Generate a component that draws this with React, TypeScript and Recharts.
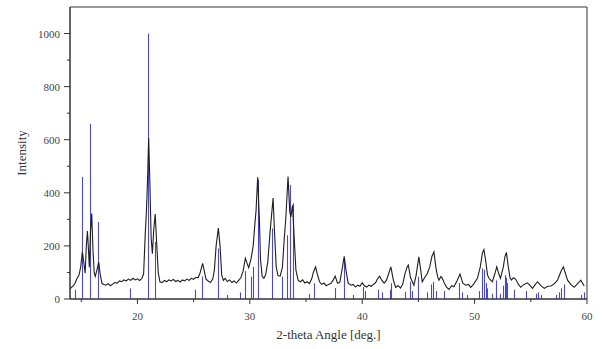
import React from "react";
import { ComposedChart, Bar, Line, XAxis, YAxis, ReferenceArea } from "recharts";

// measured pattern (2-theta, counts)
const PATTERN_ANGLE = [
  14.0, 14.15, 14.3, 14.45, 14.6, 14.8, 14.95, 15.1, 15.25, 15.35, 15.45, 15.55, 15.65, 15.72, 15.82, 15.93,
  16.05, 16.15, 16.25, 16.4, 16.55, 16.7, 16.85, 17.0, 17.2, 17.4, 17.6, 17.8, 18.0, 18.2, 18.4, 18.6,
  18.8, 19.0, 19.2, 19.4, 19.6, 19.8, 20.0, 20.2, 20.4, 20.55, 20.7, 20.8, 20.9, 21.0, 21.1, 21.22,
  21.33, 21.45, 21.58, 21.7, 21.85, 22.0, 22.2, 22.4, 22.6, 22.8, 23.0, 23.2, 23.4, 23.6, 23.8, 24.0,
  24.2, 24.4, 24.6, 24.8, 25.0, 25.2, 25.4, 25.55, 25.8, 25.95, 26.1, 26.3, 26.5, 26.7, 26.85, 27.0,
  27.2, 27.35, 27.5, 27.65, 27.8, 28.0, 28.2, 28.4, 28.6, 28.8, 29.0, 29.2, 29.4, 29.6, 29.75, 29.9,
  30.1, 30.3, 30.45, 30.55, 30.7, 30.85, 30.95, 31.1, 31.25, 31.4, 31.6, 31.8, 31.9, 32.07, 32.2, 32.35,
  32.5, 32.7, 32.9, 33.05, 33.2, 33.4, 33.55, 33.65, 33.8, 33.95, 34.1, 34.3, 34.5, 34.7, 34.9, 35.1,
  35.3, 35.5, 35.65, 35.85, 36.0, 36.2, 36.4, 36.6, 36.8, 37.0, 37.2, 37.4, 37.6, 37.8, 38.0, 38.2,
  38.4, 38.55, 38.75, 39.0, 39.2, 39.4, 39.6, 39.8, 40.0, 40.2, 40.4, 40.6, 40.8, 41.0, 41.2, 41.35,
  41.55, 41.75, 41.95, 42.15, 42.35, 42.55, 42.75, 42.97, 43.2, 43.4, 43.6, 43.8, 44.0, 44.1, 44.3, 44.6,
  44.8, 45.04, 45.2, 45.34, 45.55, 45.79, 46.0, 46.2, 46.38, 46.55, 46.7, 46.83, 47.0, 47.13, 47.3, 47.5,
  47.72, 47.95, 48.16, 48.45, 48.7, 48.95, 49.2, 49.45, 49.65, 49.9, 50.25, 50.5, 50.7, 50.83, 51.0, 51.15,
  51.28, 51.45, 51.58, 51.8, 51.97, 52.15, 52.3, 52.55, 52.7, 52.83, 53.0, 53.15, 53.28, 53.45, 53.66, 53.9,
  54.1, 54.4, 54.7, 54.95, 55.15, 55.4, 55.6, 55.9, 56.2, 56.5, 56.8, 57.1, 57.38, 57.6, 57.75, 57.9,
  58.05, 58.27, 58.55, 58.86, 59.1, 59.45, 59.6, 59.75,
];
const PATTERN_INTENSITY = [
  38, 45, 50, 60, 75, 90, 120, 178, 130, 97, 200, 256, 180, 120, 250, 322,
  180, 100, 85, 110, 139, 90, 58, 55, 52, 58, 50, 56, 62, 60, 68, 65,
  72, 68, 75, 70, 78, 72, 76, 70, 78, 95, 250, 330, 450, 606, 450, 230,
  171, 260, 320, 220, 100, 65, 62, 70, 65, 72, 68, 74, 66, 70, 64, 72,
  68, 75, 70, 78, 74, 82, 80, 95, 134, 105, 75, 68, 62, 75, 110, 200,
  267, 200, 90, 70, 78, 66, 72, 62, 68, 60, 70, 80, 105, 153, 135, 118,
  150, 200, 283, 330, 459, 300, 150, 85, 78, 90, 140, 252, 300, 380, 250, 120,
  88, 86, 120, 220, 303, 461, 330, 309, 353, 230, 109, 70, 65, 72, 60, 65,
  58, 75, 100, 121, 95, 65, 55, 60, 50, 55, 58, 70, 86, 60, 62, 110,
  161, 110, 60, 52, 55, 45, 52, 48, 61, 50, 45, 52, 48, 55, 62, 75,
  86, 70, 60, 70, 95, 121, 75, 44, 50, 41, 55, 95, 121, 128, 80, 52,
  90, 159, 110, 65, 80, 96, 120, 160, 178, 120, 85, 71, 85, 78, 60, 45,
  36, 50, 46, 70, 94, 60, 52, 55, 44, 55, 78, 120, 175, 186, 140, 90,
  78, 70, 65, 95, 121, 95, 78, 120, 160, 175, 120, 80, 71, 80, 74, 55,
  44, 55, 61, 50, 40, 55, 65, 50, 40, 48, 49, 58, 71, 95, 110, 121,
  100, 71, 55, 44, 55, 71, 60, 49,
];

// reference card lines
const STICK_ANGLE = [
  14.45, 15.05, 15.82, 16.45, 19.35, 20.9, 21.52, 25.1, 25.72, 27.18, 27.96, 29.15, 29.57, 30.1, 30.25, 30.7,
  31.98, 32.9, 33.3, 33.55, 33.85, 35.24, 35.68, 37.62, 38.4, 39.2, 40.05, 40.23, 41.42, 41.72, 42.43, 42.58,
  43.77, 44.24, 44.45, 44.95, 45.79, 46.15, 46.33, 46.53, 47.27, 48.6, 48.85, 49.3, 50.4, 50.7, 50.85, 51.0,
  51.1, 51.58, 51.88, 52.26, 52.56, 52.7, 52.8, 52.9, 53.5, 54.6, 55.5, 55.67, 55.9, 57.23, 57.52, 57.73,
  57.96, 59.45, 59.69,
];
const STICK_HEIGHT = [
  35, 460, 660, 290, 40, 1000, 215, 35, 85, 190, 15, 25, 105, 84, 121, 450,
  266, 84, 240, 430, 360, 19, 59, 41, 146, 15, 45, 30, 35, 25, 35, 60,
  27, 65, 30, 84, 25, 55, 65, 30, 30, 60, 25, 15, 30, 115, 110, 60,
  40, 20, 70, 20, 50, 90, 80, 60, 35, 30, 20, 25, 15, 15, 25, 40,
  55, 15, 25,
];

const X_TICKS = [15, 20, 25, 30, 35, 40, 45, 50, 55, 60];
const Y_TICKS = [0, 100, 200, 300, 400, 500, 600, 700, 800, 900, 1000];

const FONT = "'Liberation Serif', 'DejaVu Serif', serif";
const AXIS_COLOR = "#333";
const STICK_COLOR = "#4a4ac2";

interface Row {
  angle: number;
  intensity?: number;
  stick?: number;
}

function buildRows(): Row[] {
  const byKey = new Map<string, Row>();
  PATTERN_ANGLE.forEach((a, i) => {
    byKey.set(a.toFixed(2), { angle: a, intensity: PATTERN_INTENSITY[i] });
  });
  STICK_ANGLE.forEach((a, i) => {
    const key = a.toFixed(2);
    const row = byKey.get(key) ?? { angle: a };
    row.stick = STICK_HEIGHT[i];
    byKey.set(key, row);
  });
  return [...byKey.values()].sort((p, q) => p.angle - q.angle);
}

const rows = buildRows();

// thin vertical stick at the bar's centre
function Stick(props: any) {
  const { x, y, width, height } = props;
  if (height == null || !isFinite(height)) return null;
  const cx = Math.round(x + width / 2) + 0.5;
  return <line x1={cx} x2={cx} y1={y} y2={y + height} stroke={STICK_COLOR} strokeWidth={1.1} />;
}

function XTick(props: any) {
  const { x, y, payload } = props;
  const major = payload.value % 10 === 0;
  return (
    <g>
      <line x1={x} x2={x} y1={y} y2={y + (major ? 5 : 3)} stroke={AXIS_COLOR} />
      {major && (
        <text x={x} y={y + 21} textAnchor="middle" fontSize={11} fontFamily={FONT} fill="#444">
          {payload.value}
        </text>
      )}
    </g>
  );
}

function YTick(props: any) {
  const { x, y, payload } = props;
  const major = payload.value % 200 === 0;
  return (
    <g>
      <line x1={x} x2={x - (major ? 6 : 3)} y1={y} y2={y} stroke={AXIS_COLOR} />
      {major && (
        <text x={x - 10} y={y + 4} textAnchor="end" fontSize={11} fontFamily={FONT} fill="#444">
          {payload.value}
        </text>
      )}
    </g>
  );
}

export default function App() {
  return (
    <div style={{ position: "absolute", left: 0, top: 0, background: "#fff" }}>
      <ComposedChart width={602} height={349} data={rows} margin={{ top: 7, right: 15, left: 0, bottom: 0 }}>
        <XAxis
          type="number"
          dataKey="angle"
          domain={[14, 60]}
          ticks={X_TICKS}
          interval={0}
          allowDataOverflow
          tickSize={0}
          tickMargin={0}
          tick={<XTick />}
          stroke={AXIS_COLOR}
          height={50}
          label={{
            content: (p: any) => {
              const vb = p.viewBox;
              return (
                <text x={vb.x + vb.width / 2} y={vb.y + 40} textAnchor="middle" fontSize={13} fontFamily={FONT} fill="#333">
                  2-theta Angle [deg.]
                </text>
              );
            },
          }}
        />
        <YAxis
          type="number"
          domain={[0, 1100]}
          ticks={Y_TICKS}
          interval={0}
          allowDataOverflow
          tickSize={0}
          tickMargin={0}
          tick={<YTick />}
          stroke={AXIS_COLOR}
          width={70}
          label={{
            content: (p: any) => {
              const vb = p.viewBox;
              const cx = vb.x + 26;
              const cy = vb.y + vb.height / 2;
              return (
                <text x={cx} y={cy} transform={`rotate(-90 ${cx} ${cy})`} textAnchor="middle" fontSize={13} fontFamily={FONT} fill="#333">
                  Intensity
                </text>
              );
            },
          }}
        />
        <ReferenceArea x1={14} x2={60} y1={0} y2={1100} fill="none" stroke={AXIS_COLOR} strokeWidth={1} />
        <Bar dataKey="stick" barSize={1} shape={<Stick />} isAnimationActive={false} />
        <Line
          type="linear"
          dataKey="intensity"
          stroke="#1e1e1e"
          strokeWidth={1.1}
          dot={false}
          connectNulls
          isAnimationActive={false}
        />
      </ComposedChart>
    </div>
  );
}
